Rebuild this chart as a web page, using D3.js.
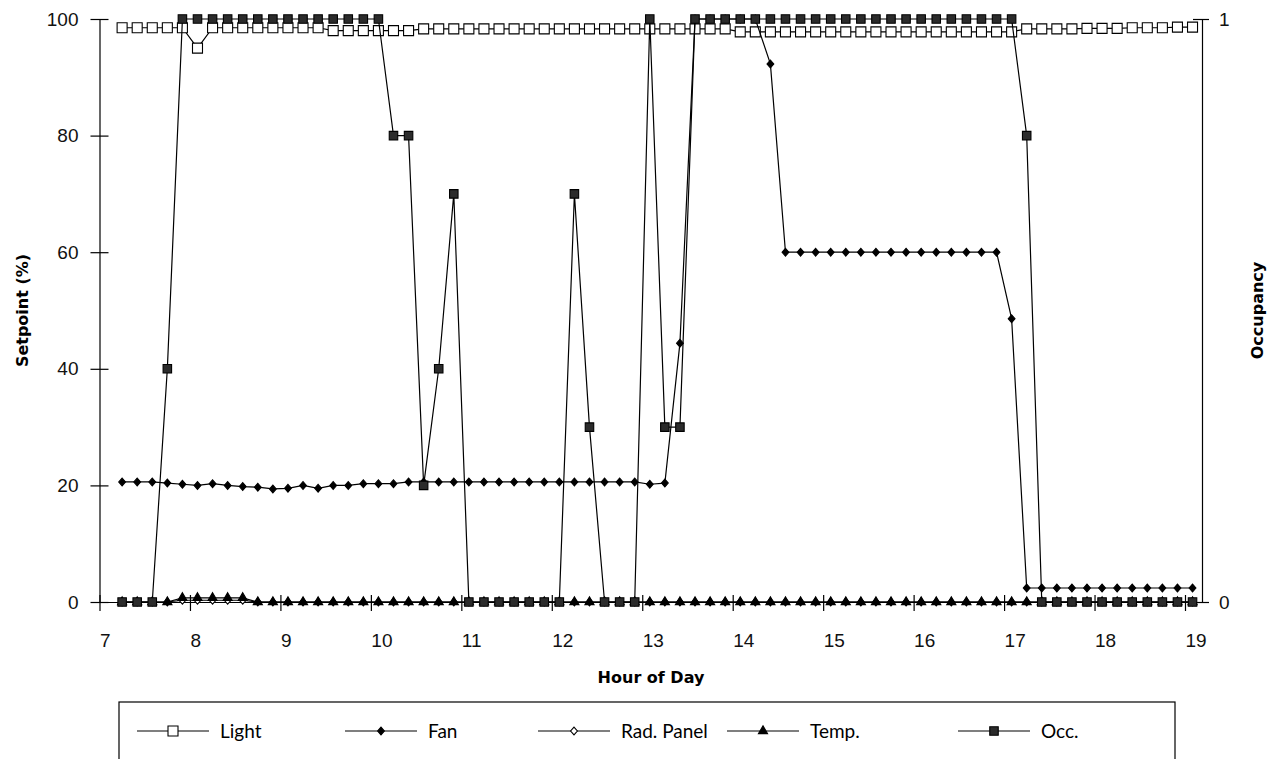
<!DOCTYPE html>
<html>
<head>
<meta charset="utf-8">
<script src="https://cdn.jsdelivr.net/npm/d3@7"></script>
<style>
  body { margin: 0; background: #fff; }
  svg { display: block; font-family: Lato, "DejaVu Sans", sans-serif; }
  .title { font-family: "DejaVu Sans", sans-serif; font-weight: bold; font-size: 16px; }
</style>
</head>
<body>
<div id="chart"></div>
<script>
// 10-minute samples, 7:15 to 19:05
const times = [
  '7:15','7:25','7:35','7:45','7:55','8:05','8:15','8:25','8:35','8:45','8:55','9:05',
  '9:15','9:25','9:35','9:45','9:55','10:05','10:15','10:25','10:35','10:45','10:55','11:05',
  '11:15','11:25','11:35','11:45','11:55','12:05','12:15','12:25','12:35','12:45','12:55','13:05',
  '13:15','13:25','13:35','13:45','13:55','14:05','14:15','14:25','14:35','14:45','14:55','15:05',
  '15:15','15:25','15:35','15:45','15:55','16:05','16:15','16:25','16:35','16:45','16:55','17:05',
  '17:15','17:25','17:35','17:45','17:55','18:05','18:15','18:25','18:35','18:45','18:55','19:05'
];

const light = [
  98.5, 98.5, 98.5, 98.5, 98.5, 95.0, 98.5, 98.5, 98.5, 98.5, 98.5, 98.5,
  98.5, 98.5, 98.0, 98.0, 98.0, 98.0, 98.0, 98.0, 98.3, 98.3, 98.3, 98.3,
  98.3, 98.3, 98.3, 98.3, 98.3, 98.3, 98.3, 98.3, 98.3, 98.3, 98.3, 98.3,
  98.3, 98.3, 98.3, 98.3, 98.3, 97.8, 97.8, 97.8, 97.8, 97.8, 97.8, 97.8,
  97.8, 97.8, 97.8, 97.8, 97.8, 97.8, 97.8, 97.8, 97.8, 97.8, 97.8, 97.8,
  98.3, 98.3, 98.3, 98.3, 98.4, 98.4, 98.4, 98.5, 98.5, 98.5, 98.6, 98.6
];

const fan = [
  20.6, 20.6, 20.6, 20.4, 20.2, 20.0, 20.3, 20.0, 19.8, 19.7, 19.4, 19.5,
  20.0, 19.5, 20.0, 20.0, 20.3, 20.3, 20.3, 20.6, 20.6, 20.6, 20.6, 20.6,
  20.6, 20.6, 20.6, 20.6, 20.6, 20.6, 20.6, 20.6, 20.6, 20.6, 20.6, 20.2,
  20.4, 44.4, 100, 100, 100, 100, 100, 92.3, 60, 60, 60, 60,
  60, 60, 60, 60, 60, 60, 60, 60, 60, 60, 60, 48.6,
  2.4, 2.4, 2.4, 2.4, 2.4, 2.4, 2.4, 2.4, 2.4, 2.4, 2.4, 2.4
];

const radPanel = [
  0, 0, 0, 0, 0.3, 0.3, 0.3, 0.3, 0.3, 0, 0, 0,
  0, 0, 0, 0, 0, 0, 0, 0, 0, 0, 0, 0,
  0, 0, 0, 0, 0, 0, 0, 0, 0, 0, 0, 0,
  0, 0, 0, 0, 0, 0, 0, 0, 0, 0, 0, 0,
  0, 0, 0, 0, 0, 0, 0, 0, 0, 0, 0, 0,
  0, 0, 0, 0, 0, 0, 0, 0, 0, 0, 0, 0
];

const temp = [
  0, 0, 0, 0, 0.7, 0.7, 0.7, 0.7, 0.7, 0, 0, 0,
  0, 0, 0, 0, 0, 0, 0, 0, 0, 0, 0, 0,
  0, 0, 0, 0, 0, 0, 0, 0, 0, 0, 0, 0,
  0, 0, 0, 0, 0, 0, 0, 0, 0, 0, 0, 0,
  0, 0, 0, 0, 0, 0, 0, 0, 0, 0, 0, 0,
  0, 0, 0, 0, 0, 0, 0, 0, 0, 0, 0, 0
];

// occupancy, right axis (0..1)
const occ = [
  0, 0, 0, 0.4, 1, 1, 1, 1, 1, 1, 1, 1,
  1, 1, 1, 1, 1, 1, 0.8, 0.8, 0.2, 0.4, 0.7, 0,
  0, 0, 0, 0, 0, 0, 0.7, 0.3, 0, 0, 0, 1,
  0.3, 0.3, 1, 1, 1, 1, 1, 1, 1, 1, 1, 1,
  1, 1, 1, 1, 1, 1, 1, 1, 1, 1, 1, 1,
  0.8, 0, 0, 0, 0, 0, 0, 0, 0, 0, 0, 0
];

const hourTicks = [7, 8, 9, 10, 11, 12, 13, 14, 15, 16, 17, 18, 19];
const setpointTicks = [0, 20, 40, 60, 80, 100];
const occTicks = [0, 1];

const W = 1268, H = 759;
const svg = d3.select('#chart').append('svg')
  .attr('width', W).attr('height', H);
svg.append('rect').attr('width', W).attr('height', H).attr('fill', '#fff');

const toHour = s => { const [h, m] = s.split(':').map(Number); return h + m / 60; };
const hrs = times.map(toHour);

const x = d3.scaleLinear().domain([7, 19.188]).range([99.5, 1202]);
const y = d3.scaleLinear().domain([0, 100]).range([602, 19]);
const yOcc = d3.scaleLinear().domain([0, 1]).range([602, 19]);

// axes
const xAxis = svg.append('g')
  .attr('transform', `translate(0,${y(0)})`)
  .call(d3.axisBottom(x).tickValues(hourTicks).tickSizeOuter(0).tickFormat(d3.format('d')));
xAxis.selectAll('.tick line').attr('y1', -7).attr('y2', 9);
xAxis.selectAll('.tick text')
  .attr('text-anchor', 'start').attr('x', 0).attr('y', 38).attr('dy', '0.35em')
  .style('font-size', '19px');

const yAxis = svg.append('g')
  .attr('transform', `translate(${x(7)},0)`)
  .call(d3.axisLeft(y).tickValues(setpointTicks).tickSizeOuter(0));
yAxis.selectAll('.tick line').attr('x1', -9).attr('x2', 9);
yAxis.selectAll('.tick text').attr('x', -21).style('font-size', '19px');

const rAxis = svg.append('g')
  .attr('transform', `translate(${x.range()[1]},0)`)
  .call(d3.axisRight(yOcc).tickValues(occTicks).tickSizeOuter(0).tickFormat(d3.format('d')));
rAxis.selectAll('.tick line').attr('x1', -9).attr('x2', 7);
rAxis.selectAll('.tick text').attr('x', 17).style('font-size', '19px');

svg.selectAll('.domain').attr('stroke', '#000').attr('stroke-width', 1.2);
svg.selectAll('.tick line').attr('stroke', '#000').attr('stroke-width', 1.2);
svg.selectAll('.tick text').attr('fill', '#111');

// axis titles
svg.append('text').attr('class', 'title')
  .attr('transform', `translate(28,${(y(0) + y(100)) / 2}) rotate(-90)`)
  .attr('text-anchor', 'middle')
  .text('Setpoint (%)');

svg.append('text').attr('class', 'title')
  .attr('transform', `translate(1263,${(y(0) + y(100)) / 2}) rotate(-90)`)
  .attr('text-anchor', 'middle')
  .text('Occupancy');

svg.append('text').attr('class', 'title')
  .attr('x', 651).attr('y', 683)
  .attr('text-anchor', 'middle')
  .text('Hour of Day');

// marker shapes
const squareDiamond = {
  draw(ctx, size) {
    const w = Math.sqrt(size) / 2, h = w * 1.15;
    ctx.moveTo(0, -h); ctx.lineTo(w, 0); ctx.lineTo(0, h); ctx.lineTo(-w, 0); ctx.closePath();
  }
};
const markers = {
  openSquare: d3.symbol().type(d3.symbolSquare).size(100),
  diamond: d3.symbol().type(squareDiamond).size(46),
  triangle: d3.symbol().type(d3.symbolTriangle).size(36),
  fillSquare: d3.symbol().type(d3.symbolSquare).size(72)
};

const series = [
  { name: 'Light', values: light, scale: y, shape: markers.openSquare, fill: '#fff' },
  { name: 'Fan', values: fan, scale: y, shape: markers.diamond, fill: '#000' },
  { name: 'Rad. Panel', values: radPanel, scale: y, shape: markers.diamond, fill: '#fff' },
  { name: 'Temp.', values: temp, scale: y, shape: markers.triangle, fill: '#000' },
  { name: 'Occ.', values: occ, scale: yOcc, shape: markers.fillSquare, fill: '#2b2b2b' }
];

const plot = svg.append('g');
series.forEach(s => {
  const pts = s.values.map((v, i) => [x(hrs[i]), s.scale(v)]);
  const g = plot.append('g');
  g.append('path')
    .attr('d', d3.line()(pts))
    .attr('fill', 'none').attr('stroke', '#000').attr('stroke-width', 1.2);
  g.selectAll('path.m')
    .data(pts).enter().append('path')
    .attr('class', 'm')
    .attr('transform', d => `translate(${d[0]},${d[1]})`)
    .attr('d', s.shape())
    .attr('fill', s.fill).attr('stroke', '#000').attr('stroke-width', 1.1);
});

// legend
const legend = svg.append('g');
legend.append('rect')
  .attr('x', 119).attr('y', 702).attr('width', 1056).attr('height', 90)
  .attr('fill', 'none').attr('stroke', '#000').attr('stroke-width', 1.2);

const legendX = [137, 345, 538, 727, 958];
const legendItems = legend.selectAll('.legend-item')
  .data(series).enter().append('g')
  .attr('class', 'legend-item')
  .attr('transform', (d, i) => `translate(${legendX[i]},731)`);

legendItems.append('line')
  .attr('x1', 0).attr('x2', 72)
  .attr('stroke', '#000').attr('stroke-width', 1.2);
legendItems.append('path')
  .attr('transform', 'translate(36,0)')
  .attr('d', d => d.shape())
  .attr('fill', d => d.fill).attr('stroke', '#000').attr('stroke-width', 1.1);
legendItems.append('text')
  .attr('x', 83).attr('dy', '0.35em')
  .style('font-size', '19px')
  .text(d => d.name);
</script>
</body>
</html>
